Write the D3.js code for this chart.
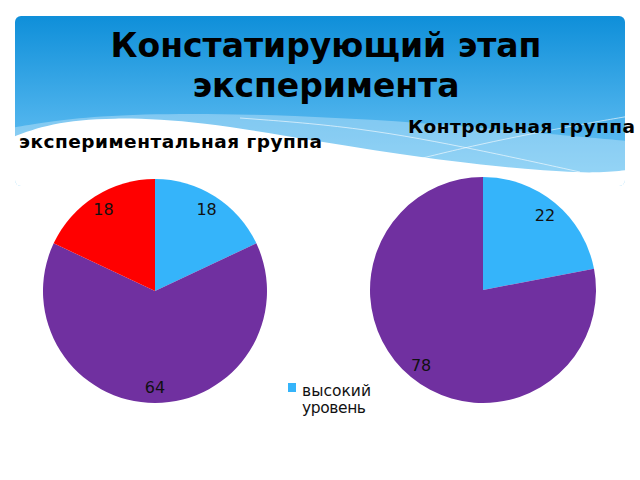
<!DOCTYPE html>
<html>
<head>
<meta charset="utf-8">
<script src="https://cdn.jsdelivr.net/npm/d3@7"></script>
<style>
  html, body { margin: 0; padding: 0; background: #fff; }
  svg { display: block; font-family: "DejaVu Sans", sans-serif; }
</style>
</head>
<body>
<svg id="chart" width="640" height="480"></svg>
<script>
// chart data
const titleLines = ["Констатирующий этап", "эксперимента"];
const groupNames = ["экспериментальная группа", "Контрольная группа"];
const levels = ["высокий уровень", "средний уровень", "низкий уровень"];
const levelColors = ["#35b4fa", "#7030a0", "#ff0000"];
const expValues = [18, 64, 18];
const ctrlValues = [22, 78];

const W = 640, H = 480;
const svg = d3.select("#chart");
const defs = svg.append("defs");

// banner background
const grad = defs.append("linearGradient")
  .attr("id", "bannerGrad")
  .attr("x1", 0).attr("y1", 0).attr("x2", 0).attr("y2", 1);
grad.append("stop").attr("offset", "0%").attr("stop-color", "#0f8fd9");
grad.append("stop").attr("offset", "60%").attr("stop-color", "#4cb2ec");
grad.append("stop").attr("offset", "100%").attr("stop-color", "#6cc5f3");

defs.append("clipPath").attr("id", "bannerClip")
  .append("rect")
  .attr("x", 15).attr("y", 16)
  .attr("width", 610).attr("height", 170)
  .attr("rx", 6);

const banner = svg.append("g").attr("clip-path", "url(#bannerClip)");
banner.append("rect")
  .attr("x", 15).attr("y", 16)
  .attr("width", 610).attr("height", 170)
  .attr("fill", "url(#bannerGrad)");

const line = d3.line().curve(d3.curveBasis);

// lighter band
banner.append("path")
  .attr("d", line([[0, 130], [90, 114], [250, 113], [420, 122], [560, 135], [640, 142]]) +
    "L640,200L0,200Z")
  .attr("fill", "#ffffff")
  .attr("opacity", 0.3);

// thin crossing lines
banner.append("path")
  .attr("d", line([[240, 118], [360, 127], [480, 150], [580, 172]]))
  .attr("fill", "none").attr("stroke", "#ffffff").attr("stroke-width", 1).attr("opacity", 0.6);
banner.append("path")
  .attr("d", line([[395, 165], [470, 146], [560, 128], [630, 116]]))
  .attr("fill", "none").attr("stroke", "#ffffff").attr("stroke-width", 1).attr("opacity", 0.6);

// white wave
banner.append("path")
  .attr("d", line([[10, 138], [50, 123], [110, 117], [200, 121], [320, 142], [430, 159], [530, 170], [600, 174], [640, 168]]) +
    "L640,200L0,200Z")
  .attr("fill", "#ffffff");

// title
svg.append("g").selectAll("text")
  .data(titleLines)
  .join("text")
  .attr("x", 326)
  .attr("y", (d, i) => 57 + i * 40)
  .attr("text-anchor", "middle")
  .attr("font-size", 33)
  .attr("font-weight", "bold")
  .attr("fill", "#000")
  .text(d => d);

// group titles
svg.append("text")
  .attr("x", 19).attr("y", 148)
  .attr("font-size", 18.5).attr("font-weight", "bold")
  .attr("fill", "#000")
  .attr("textLength", 303).attr("lengthAdjust", "spacing")
  .text(groupNames[0]);
svg.append("text")
  .attr("x", 408).attr("y", 133)
  .attr("font-size", 18.5).attr("font-weight", "bold")
  .attr("fill", "#000")
  .attr("textLength", 227).attr("lengthAdjust", "spacing")
  .text(groupNames[1]);

// pies
const pie = d3.pie().sort(null).value(d => d);

function drawPie(values, cx, cy, r) {
  const arc = d3.arc().innerRadius(0).outerRadius(r);
  const labelArc = d3.arc().innerRadius(r * 0.86).outerRadius(r * 0.86);
  const g = svg.append("g").attr("transform", `translate(${cx},${cy})`);
  const arcs = pie(values);
  g.selectAll("path")
    .data(arcs)
    .join("path")
    .attr("d", arc)
    .attr("fill", (d, i) => levelColors[i]);
  g.selectAll("text")
    .data(arcs)
    .join("text")
    .attr("transform", d => `translate(${labelArc.centroid(d)})`)
    .attr("text-anchor", "middle")
    .attr("dy", "0.36em")
    .attr("font-size", 16)
    .attr("fill", "#111")
    .text(d => d.data);
}

drawPie(expValues, 155, 291, 112);
drawPie(ctrlValues, 483, 290, 113);

// legend (only first entry visible)
const legend = svg.append("g").attr("transform", "translate(288,383)");
legend.append("rect")
  .attr("width", 8).attr("height", 9)
  .attr("fill", levelColors[0]);
legend.selectAll("text")
  .data(levels[0].split(" "))
  .join("text")
  .attr("x", 14)
  .attr("y", (d, i) => 13 + i * 17)
  .attr("font-size", 15.5)
  .attr("fill", "#111")
  .attr("textLength", (d, i) => i === 0 ? 69 : 64)
  .attr("lengthAdjust", "spacing")
  .text(d => d);
</script>
</body>
</html>
